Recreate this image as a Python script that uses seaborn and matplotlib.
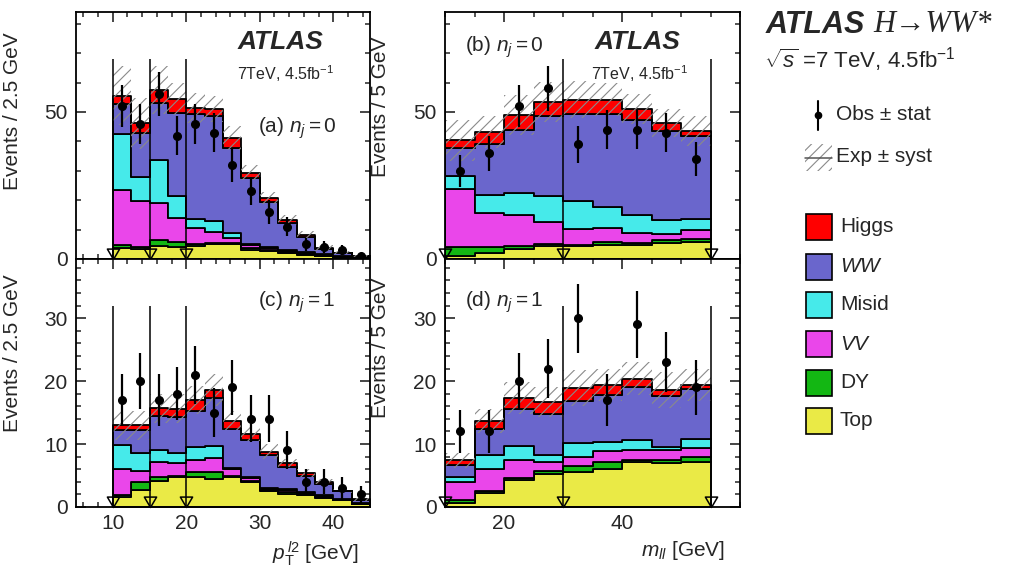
import numpy as np
import pandas as pd
import matplotlib
matplotlib.use('Agg')
import matplotlib.pyplot as plt
from matplotlib.path import Path
from matplotlib.patches import Rectangle
from matplotlib.ticker import MultipleLocator, FixedLocator
import seaborn as sns

# --- processes (stack order top -> bottom) ---
process_names = ['Higgs', 'WW', 'Misid', 'VV', 'DY', 'Top']
process_colors = ['#ff0000', '#6a66cc', '#46eaea', '#ea46ea', '#13b713', '#eaea46']

pt_edges = [10, 12.5, 15, 17.5, 20, 22.5, 25, 27.5, 30, 32.5, 35, 37.5, 40, 42.5, 45]
mll_edges = [10, 15, 20, 25, 30, 35, 40, 45, 50, 55]

# --- (a) pT(l2), nj = 0 ---
a_higgs = [2.8, 3.1, 4.3, 4.7, 2.0, 2.25, 3.4, 1.9, 1.5, 1.1, 0.6, 0.3, 0.3, 0.1]
a_ww = [10.2, 15.2, 19.3, 28.2, 35.8, 35.75, 28.95, 22.4, 15.1, 9.1, 5.1, 1.7, 0.9, 0.4]
a_misid = [19.3, 8.2, 14.8, 7.5, 3.0, 3.8, 1.75, 0.3, 0.6, 0.3, 0.6, 0.2, 0.2, 0.15]
a_vv = [18.5, 15.4, 12.5, 8.1, 5.6, 3.9, 1.7, 1.2, 0.5, 0.4, 0.3, 0.3, 0.1, 0.1]
a_dy = [1.2, 0.9, 2.1, 1.7, 0.6, 0.3, 0.3, 0.5, 0.4, 0.5, 0.2, 0.2, 0.1, 0.15]
a_top = [3.6, 3.3, 4.4, 4.2, 4.4, 5.0, 5.0, 3.1, 2.7, 1.9, 1.4, 0.9, 0.6, 0.2]
a_obs = [52, 46, 56, 42, 46, 43, 32, 23, 16, 11, 5, 4, 3, 1]
a_syst = [10, 8.7, 8.2, 5.5, 5.1, 4.3, 4.0, 2.6, 2.0, 1.7, 1.2, 1.0, 0.5, 0.3]

# --- (b) mll, nj = 0 ---
b_higgs = [2.5, 4.0, 4.9, 4.9, 5.0, 5.0, 3.7, 2.9, 1.8]
b_ww = [9.7, 17.4, 21.5, 27.1, 29.5, 31.6, 32.3, 30.3, 28.1]
b_misid = [4.2, 6.2, 7.4, 8.9, 9.5, 7.0, 6.35, 4.6, 3.9]
b_vv = [19.9, 11.6, 10.6, 7.4, 5.3, 4.7, 3.25, 1.9, 2.9]
b_dy = [3.0, 2.1, 1.1, 0.8, 0.6, 1.0, 0.6, 1.3, 1.1]
b_top = [1.0, 1.9, 3.4, 4.3, 4.3, 4.9, 4.9, 5.3, 5.7]
b_obs = [30, 36, 52, 58, 39, 44, 44, 43, 34]
b_syst = [7.0, 5.5, 6.8, 6.8, 6.2, 5.5, 5.1, 4.8, 5.2]

# --- (c) pT(l2), nj = 1 ---
c_higgs = [0.8, 0.8, 1.3, 1.3, 1.7, 1.3, 1.3, 0.9, 0.6, 0.7, 0.4, 0.3, 0.1, 0.05]
c_ww = [2.3, 3.6, 5.4, 5.7, 5.8, 7.6, 6.2, 5.9, 5.2, 3.4, 2.6, 1.85, 1.2, 0.45]
c_misid = [3.9, 2.9, 1.9, 1.6, 2.1, 1.9, 0.1, 0.2, 0.1, 0.15, 0.2, 0.15, 0.1, 0.1]
c_vv = [4.15, 1.7, 2.3, 2.1, 1.8, 2.2, 1.2, 0.4, 0.15, 0.35, 0.2, 0.1, 0.05, 0.1]
c_dy = [0.25, 1.25, 0.6, 0.1, 0.8, 1.1, 0.1, 0.2, 0.25, 0.3, 0.15, 0.2, 0.1, 0.1]
c_top = [1.6, 2.75, 4.2, 4.8, 4.8, 4.5, 4.8, 4.0, 2.5, 2.1, 1.85, 1.4, 1.05, 0.4]
c_obs = [17, 20, 17, 18, 21, 15, 19, 14, 14, 9, 4, 4, 3, 2]
c_syst = [2.3, 2.3, 2.3, 2.3, 2.3, 2.6, 1.5, 1.1, 1.2, 0.7, 0.6, 0.4, 0.3, 0.2]

# --- (d) mll, nj = 1 ---
d_higgs = [0.8, 1.3, 1.7, 1.9, 2.0, 1.6, 1.4, 0.9, 0.6]
d_ww = [1.8, 4.2, 5.9, 6.5, 6.8, 7.4, 8.3, 8.2, 8.0]
d_misid = [0.8, 2.1, 2.2, 1.2, 2.2, 1.5, 1.7, 0.5, 1.5]
d_vv = [2.9, 3.6, 2.9, 1.4, 1.4, 1.8, 1.6, 1.6, 1.4]
d_dy = [0.4, 0.3, 0.3, 0.4, 0.9, 1.0, 0.3, 0.4, 0.8]
d_top = [0.7, 2.2, 4.3, 5.3, 5.6, 6.1, 7.1, 7.0, 7.1]
d_obs = [12, 12, 20, 22, 30, 17, 29, 23, 19]
d_syst = [1.2, 1.9, 2.5, 2.4, 2.8, 2.6, 2.6, 2.8, 2.6]

pt_cuts = [10, 15, 20]
mll_cuts = [10, 30, 55]

# --- style ---
sns.set_theme(style='ticks')
plt.rcParams.update({
    'font.family': ['Liberation Sans', 'DejaVu Sans'],
    'mathtext.fontset': 'custom',
    'mathtext.rm': 'Liberation Sans',
    'mathtext.it': 'Liberation Sans:italic',
    'mathtext.bf': 'Liberation Sans:bold',
    'axes.linewidth': 1.3,
    'axes.edgecolor': 'black',
    'xtick.direction': 'in', 'ytick.direction': 'in',
    'xtick.top': True, 'ytick.right': True,
    'xtick.major.size': 7, 'ytick.major.size': 7,
    'xtick.minor.size': 3.5, 'ytick.minor.size': 3.5,
    'xtick.major.width': 1.2, 'ytick.major.width': 1.2,
    'xtick.minor.width': 1.1, 'ytick.minor.width': 1.1,
    'xtick.labelsize': 15, 'ytick.labelsize': 15,
    'hatch.linewidth': 0.8,
})

# downward triangle with its tip on the anchor point
tri = Path([(0, 0), (-1, 1.7), (1, 1.7), (0, 0)],
           [Path.MOVETO, Path.LINETO, Path.LINETO, Path.CLOSEPOLY])


def draw_panel(ax, edges, stacks, obs, syst, cuts, cut_top):
    centers = [0.5 * (lo + hi) for lo, hi in zip(edges[:-1], edges[1:])]
    rows = []
    for name, vals in zip(process_names, stacks):
        for c, v in zip(centers, vals):
            rows.append({'x': c, 'w': v, 'proc': name})
    df = pd.DataFrame(rows)
    sns.histplot(df, x='x', weights='w', hue='proc', hue_order=process_names,
                 palette=dict(zip(process_names, process_colors)),
                 multiple='stack', bins=list(edges), element='step', alpha=1,
                 edgecolor='black', linewidth=1.3, legend=False, ax=ax)
    total = np.sum(np.asarray(stacks), axis=0)
    lo = total - np.asarray(syst)
    hi = total + np.asarray(syst)
    ax.fill_between(edges, np.append(lo, lo[-1]), np.append(hi, hi[-1]), step='post',
                    facecolor='none', edgecolor='#8a8a8a', hatch='///', linewidth=0, zorder=3)
    ax.vlines(cuts, 0, cut_top, color='black', lw=1.1, zorder=4)
    ax.plot(cuts, np.zeros(len(cuts)), ls='none', marker=tri, ms=15, mfc='none',
            mec='black', mew=1.1, clip_on=False, zorder=6)
    obs = np.asarray(obs, float)
    ax.errorbar(centers, obs, yerr=np.sqrt(obs), fmt='o', color='black', ms=5.5,
                elinewidth=1.6, capsize=0, zorder=5)
    ax.set_xlabel('')
    ax.set_ylabel('')


fig = plt.figure(figsize=(10.13, 5.72), dpi=100)
W, H = 1013, 572


def px_axes(x0, x1, y0, y1):
    return fig.add_axes([x0 / W, 1 - y1 / H, (x1 - x0) / W, (y1 - y0) / H])


ax_a = px_axes(76, 370, 12, 259)
ax_c = px_axes(76, 370, 259, 507)
ax_b = px_axes(445, 740, 12, 259)
ax_d = px_axes(445, 740, 259, 507)

draw_panel(ax_a, pt_edges, [a_higgs, a_ww, a_misid, a_vv, a_dy, a_top], a_obs, a_syst, pt_cuts, 68)
draw_panel(ax_b, mll_edges, [b_higgs, b_ww, b_misid, b_vv, b_dy, b_top], b_obs, b_syst, mll_cuts, 68)
draw_panel(ax_c, pt_edges, [c_higgs, c_ww, c_misid, c_vv, c_dy, c_top], c_obs, c_syst, pt_cuts, 32)
draw_panel(ax_d, mll_edges, [d_higgs, d_ww, d_misid, d_vv, d_dy, d_top], d_obs, d_syst, mll_cuts, 32)

for ax in (ax_a, ax_c):
    ax.set_xlim(5, 45)
    ax.xaxis.set_major_locator(FixedLocator([10, 20, 30, 40]))
    ax.xaxis.set_minor_locator(MultipleLocator(2))
for ax in (ax_b, ax_d):
    ax.set_xlim(10, 60)
    ax.xaxis.set_major_locator(FixedLocator([20, 40]))
    ax.xaxis.set_minor_locator(MultipleLocator(5))
for ax in (ax_a, ax_b):
    ax.set_ylim(0, 84)
    ax.yaxis.set_major_locator(MultipleLocator(50))
    ax.yaxis.set_minor_locator(MultipleLocator(10))
    ax.tick_params(axis='x', labelbottom=False)
for ax in (ax_c, ax_d):
    ax.set_ylim(0, 39.4)
    ax.yaxis.set_major_locator(MultipleLocator(10))
    ax.yaxis.set_minor_locator(MultipleLocator(2))
for ax in (ax_a, ax_b, ax_c, ax_d):
    ax.tick_params(which='both', top=True, right=True, direction='in')
    ax.tick_params(axis='y', pad=6)
    ax.tick_params(axis='x', pad=5)
    for s in ax.spines.values():
        s.set_zorder(10)

# axis titles
ylab = {'fontsize': 15}
ax_a.set_ylabel('Events / 2.5 GeV', **ylab)
ax_a.yaxis.set_label_coords(-0.185, 0.60)
ax_c.set_ylabel('Events / 2.5 GeV', **ylab)
ax_c.yaxis.set_label_coords(-0.185, 0.62)
ax_b.set_ylabel('Events / 5 GeV', **ylab)
ax_b.yaxis.set_label_coords(-0.187, 0.615)
ax_d.set_ylabel('Events / 5 GeV', **ylab)
ax_d.yaxis.set_label_coords(-0.187, 0.64)

ax_c.set_xlabel(r'$p_{\mathrm{T}}^{\,l2}$ [GeV]', fontsize=15, ha='right')
ax_c.xaxis.set_label_coords(0.96, -0.13)
ax_d.set_xlabel(r'$m_{ll}$ [GeV]', fontsize=15, ha='right')
ax_d.xaxis.set_label_coords(0.95, -0.13)

# panel annotations
ax_a.text(0.548, 0.879, 'ATLAS', transform=ax_a.transAxes, fontsize=19,
          fontweight='bold', fontstyle='italic', va='center')
ax_a.text(0.548, 0.749, r'7TeV, 4.5fb$^{-1}$', transform=ax_a.transAxes, fontsize=11.5, va='center')
ax_a.text(0.62, 0.53, r'(a) $n_j = 0$', transform=ax_a.transAxes, fontsize=15, va='center')

ax_b.text(0.508, 0.879, 'ATLAS', transform=ax_b.transAxes, fontsize=19,
          fontweight='bold', fontstyle='italic', va='center')
ax_b.text(0.495, 0.749, r'7TeV, 4.5fb$^{-1}$', transform=ax_b.transAxes, fontsize=11.5, va='center')
ax_b.text(0.068, 0.858, r'(b) $n_j = 0$', transform=ax_b.transAxes, fontsize=15, va='center')

ax_c.text(0.62, 0.827, r'(c) $n_j = 1$', transform=ax_c.transAxes, fontsize=15, va='center')
ax_d.text(0.068, 0.827, r'(d) $n_j = 1$', transform=ax_d.transAxes, fontsize=15, va='center')

# --- legend / header on the right ---
leg = fig.add_axes([0, 0, 1, 1])
leg.set_xlim(0, W)
leg.set_ylim(H, 0)
leg.axis('off')
leg.patch.set_alpha(0)

leg.text(766, 25, 'ATLAS', fontsize=22, fontweight='bold', fontstyle='italic', va='center')
leg.text(873, 25, 'H\u2192WW*', fontsize=22, fontstyle='italic',
         family=['Liberation Serif', 'DejaVu Serif'], va='center')
leg.text(764, 60, r'$\sqrt{s}$ =7 TeV, 4.5fb$^{-1}$', fontsize=16, va='center')

leg.plot([818, 818], [101, 130], color='black', lw=1.5)
leg.plot([818], [115], 'o', color='black', ms=4.5)
leg.text(836, 115, 'Obs \u00b1 stat', fontsize=15, va='center')

leg.add_patch(Rectangle((805, 144), 27, 27, facecolor='none', edgecolor='#8a8a8a',
                        hatch='///', lw=0))
leg.plot([805, 832], [157.5, 157.5], color='#555555', lw=1.1)
leg.text(836, 157, 'Exp \u00b1 syst', fontsize=15, va='center')

legend_y = [227, 267, 305, 344, 383, 421]
legend_labels = ['Higgs', '$WW$', 'Misid', '$VV$', 'DY', 'Top']
for yy, lab, col in zip(legend_y, legend_labels, process_colors):
    leg.add_patch(Rectangle((806, yy - 13), 26, 26, facecolor=col, edgecolor='black', lw=1.2))
    leg.text(840, yy, lab, fontsize=15, va='center')

fig.savefig('out.png', dpi=100)
